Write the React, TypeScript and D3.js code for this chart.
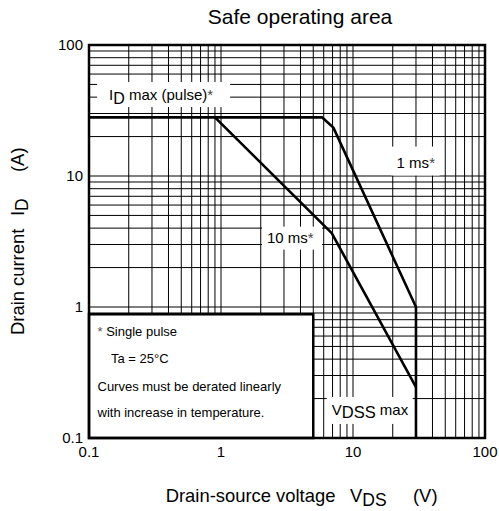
import * as d3 from 'd3';

const W = 499;
const H = 511;
const FONT = 'Arial, "Liberation Sans", Helvetica, sans-serif';

// axis ticks
const TICK_VALUES = [0.1, 1, 10, 100];
const TICK_LABELS = ['0.1', '1', '10', '100'];

// curves (V, A)
const ID_PULSE = 28;
const VDSS_MAX = 30;
const CURVE_1MS_V = [0.1, 5.85, 7.1, VDSS_MAX, VDSS_MAX];
const CURVE_1MS_I = [ID_PULSE, ID_PULSE, 23.4, 1.0, 0.1];
const CURVE_10MS_V = [0.9, 6.9, VDSS_MAX];
const CURVE_10MS_I = [ID_PULSE, 3.66, 0.245];

// legend box extent (data coords)
const NOTE_V = [0.1, 5];
const NOTE_I = [0.1, 0.88];
const NOTE_LINES = ['* Single pulse', 'Ta = 25°C', 'Curves must be derated linearly', 'with increase in temperature.'];

const PLOT = { left: 89, right: 485, top: 45, bottom: 438 };

const x = d3.scaleLog().domain([0.1, 100]).range([PLOT.left, PLOT.right]);
const y = d3.scaleLog().domain([0.1, 100]).range([PLOT.bottom, PLOT.top]);

// minor + major grid values
const gridVals: number[] = [];
[0.1, 1, 10].forEach((dec) => {
  for (let k = 1; k <= 9; k++) gridVals.push(dec * k);
});
gridVals.push(100);

const line = d3
  .line<[number, number]>()
  .x((d) => x(d[0]))
  .y((d) => y(d[1]));

const zip = (a: number[], b: number[]) => a.map((v, i) => [v, b[i]] as [number, number]);

// annotation boxes: anchor in data, box offsets relative to anchor
interface Note {
  v: number;
  i: number;
  box: [number, number, number, number]; // dx0, dy0, dx1, dy1
}
const ID_NOTE: Note = { v: 0.142, i: 38, box: [-12, -18, 121, 7] };
const MS1_NOTE: Note = { v: 21.4, i: 11.6, box: [-5, -21, 43, 8] };
const MS10_NOTE: Note = { v: 2.23, i: 3.1, box: [-5, -16, 55, 7] };
const VDSS_NOTE: Note = { v: 6.9, i: 0.15, box: [-5, -18, 81, 9] };
const NOTES = [ID_NOTE, MS1_NOTE, MS10_NOTE, VDSS_NOTE];

const at = (n: Note) => [x(n.v), y(n.i)];

export default function App() {
  const [idx, idy] = at(ID_NOTE);
  const [m1x, m1y] = at(MS1_NOTE);
  const [m10x, m10y] = at(MS10_NOTE);
  const [vdx, vdy] = at(VDSS_NOTE);
  const noteTop = y(NOTE_I[1]);
  const noteLeft = x(NOTE_V[0]);

  return (
    <svg
      width={W}
      height={H}
      style={{ position: 'absolute', left: 0, top: 0, background: '#fff' }}
      fontFamily={FONT}
    >
      <rect width={W} height={H} fill="#fff" />

      {/* title */}
      <text x={300} y={24} fontSize={21} textAnchor="middle">
        Safe operating area
      </text>

      {/* grid */}
      <g stroke="#000" strokeWidth={1}>
        {gridVals.map((v) => (
          <line key={'gx' + v} x1={x(v)} x2={x(v)} y1={PLOT.top} y2={PLOT.bottom} />
        ))}
        {gridVals.map((v) => (
          <line key={'gy' + v} y1={y(v)} y2={y(v)} x1={PLOT.left} x2={PLOT.right} />
        ))}
      </g>

      {/* white boxes behind labels */}
      {NOTES.map((n, k) => {
        const [ax, ay] = at(n);
        return (
          <rect
            key={k}
            x={ax + n.box[0]}
            y={ay + n.box[1]}
            width={n.box[2] - n.box[0]}
            height={n.box[3] - n.box[1]}
            fill="#fff"
          />
        );
      })}

      {/* note box */}
      <rect
        x={x(NOTE_V[0])}
        y={y(NOTE_I[1])}
        width={x(NOTE_V[1]) - x(NOTE_V[0])}
        height={y(NOTE_I[0]) - y(NOTE_I[1])}
        fill="#fff"
        stroke="#000"
        strokeWidth={2.5}
      />
      <g fontSize={13}>
        <text x={noteLeft + 8.5} y={noteTop + 22}>
          <tspan fill="#555">*</tspan> Single pulse
        </text>
        <text x={noteLeft + 22} y={noteTop + 49}>{NOTE_LINES[1]}</text>
        <text x={noteLeft + 8.5} y={noteTop + 77}>{NOTE_LINES[2]}</text>
        <text x={noteLeft + 8.5} y={noteTop + 103}>{NOTE_LINES[3]}</text>
      </g>

      {/* curves */}
      <g fill="none" stroke="#000" strokeWidth={2.6} strokeLinejoin="round">
        <path d={line(zip(CURVE_1MS_V, CURVE_1MS_I)) ?? ''} />
        <path d={line(zip(CURVE_10MS_V, CURVE_10MS_I)) ?? ''} />
      </g>

      {/* frame */}
      <rect
        x={PLOT.left}
        y={PLOT.top}
        width={PLOT.right - PLOT.left}
        height={PLOT.bottom - PLOT.top}
        fill="none"
        stroke="#000"
        strokeWidth={2.5}
      />

      {/* curve labels */}
      <g fontSize={15}>
        <text x={idx} y={idy}>
          I<tspan dy={4} fontSize={16}>D</tspan>
          <tspan dy={-4}> max (pulse)</tspan>
          <tspan fill="#444">*</tspan>
        </text>
        <text x={m1x} y={m1y}>
          1 ms<tspan fill="#444">*</tspan>
        </text>
        <text x={m10x} y={m10y}>
          10 ms<tspan fill="#444">*</tspan>
        </text>
        <text x={vdx} y={vdy}>
          V<tspan dy={3.5} fontSize={16.5}>DSS</tspan>
          <tspan dy={-3.5}> max</tspan>
        </text>
      </g>

      {/* tick labels */}
      <g fontSize={15}>
        {TICK_VALUES.map((v, k) => (
          <text key={'tx' + v} x={x(v)} y={457} textAnchor="middle">
            {TICK_LABELS[k]}
          </text>
        ))}
        {TICK_VALUES.map((v, k) => (
          <text key={'ty' + v} x={83} y={y(v) + 5} textAnchor="end">
            {TICK_LABELS[k]}
          </text>
        ))}
      </g>

      {/* axis titles */}
      <text x={165.7} y={502} fontSize={18.4}>
        Drain-source voltage
        <tspan x={350}>V</tspan>
        <tspan dy={4} fontSize={17.5}>DS</tspan>
        <tspan x={413} dy={-4}>(V)</tspan>
      </text>
      <g transform="translate(24,335) rotate(-90)">
        <text x={0} y={0} fontSize={18.4}>
          Drain current
          <tspan x={119}>I</tspan>
          <tspan dy={4} fontSize={17.5}>D</tspan>
          <tspan x={163} dy={-4}>(A)</tspan>
        </text>
      </g>
    </svg>
  );
}
